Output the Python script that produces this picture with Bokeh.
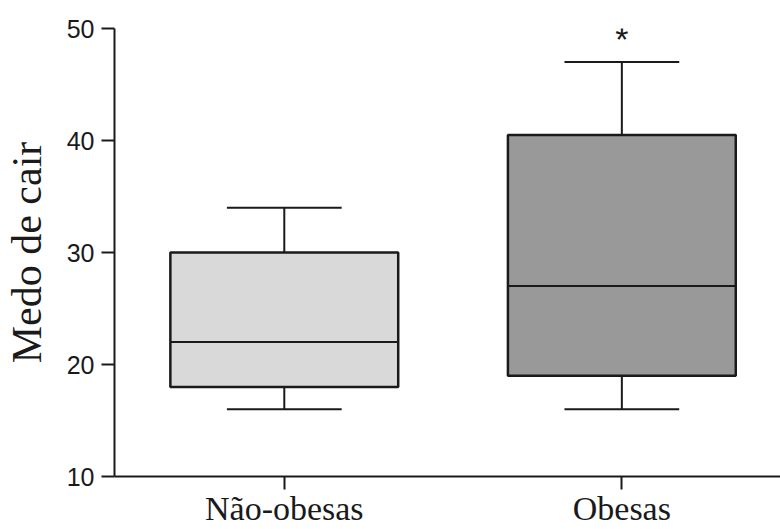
from bokeh.plotting import figure
from bokeh.models import Range1d, FixedTicker
from bokeh.core.properties import value
from bokeh.embed import file_html
from bokeh.resources import INLINE

# Data
categories = ["Não-obesas", "Obesas"]
positions = [1, 2]
lower_whisker = [16, 16]
q1 = [18, 19]
median = [22, 27]
q3 = [30, 40.5]
upper_whisker = [34, 47]
box_colors = ["#d9d9d9", "#999999"]
y_ticks = [10, 20, 30, 40, 50]
signif_marks = ["", "*"]
signif_y = [None, 49.1]

BOX_W = 0.675
CAP_W = 0.34
LINE = "#1a1a1a"

p = figure(width=780, height=529, output_backend="svg", toolbar_location=None,
           x_range=Range1d(0.497, 2.47), y_range=Range1d(10, 50),
           min_border_left=113, min_border_right=0, min_border_top=28,
           min_border_bottom=53)
p.outline_line_color = None
p.xgrid.visible = False
p.ygrid.visible = False
p.background_fill_color = "white"
p.border_fill_color = "white"

# whiskers
p.segment(x0=positions, x1=positions, y0=q3, y1=upper_whisker, line_color=LINE, line_width=2)
p.segment(x0=positions, x1=positions, y0=q1, y1=lower_whisker, line_color=LINE, line_width=2)
# caps
p.segment(x0=[x - CAP_W / 2 for x in positions], x1=[x + CAP_W / 2 for x in positions],
          y0=upper_whisker, y1=upper_whisker, line_color=LINE, line_width=2)
p.segment(x0=[x - CAP_W / 2 for x in positions], x1=[x + CAP_W / 2 for x in positions],
          y0=lower_whisker, y1=lower_whisker, line_color=LINE, line_width=2)
# boxes
p.vbar(x=positions, width=BOX_W, bottom=q1, top=q3, fill_color=box_colors,
       line_color=LINE, line_width=2.5)
# medians
p.segment(x0=[x - BOX_W / 2 for x in positions], x1=[x + BOX_W / 2 for x in positions],
          y0=median, y1=median, line_color=LINE, line_width=2)

# significance mark
sx = [x for x, m in zip(positions, signif_marks) if m]
sy = [y for y, m in zip(signif_y, signif_marks) if m]
st = [m for m in signif_marks if m]
p.text(x=sx, y=sy, text=st, text_align="center", text_baseline="middle",
       text_font=value("Liberation Sans"), text_font_size="34px", text_color=LINE)

# axes
p.xaxis.ticker = FixedTicker(ticks=positions)
p.xaxis.major_label_overrides = {x: c for x, c in zip(positions, categories)}
p.xaxis.major_label_text_font = "Liberation Serif"
p.xaxis.major_label_text_font_size = "34px"
p.xaxis.major_label_text_color = LINE
p.xaxis.major_label_standoff = 0
p.xaxis.minor_tick_line_color = None
p.xaxis.major_tick_out = 13
p.xaxis.major_tick_in = 0
p.xaxis.axis_line_width = 2
p.xaxis.major_tick_line_width = 2
p.xaxis.axis_line_color = LINE
p.xaxis.major_tick_line_color = LINE

p.yaxis.ticker = FixedTicker(ticks=y_ticks)
p.yaxis.axis_label = "Medo de cair"
p.yaxis.axis_label_text_font = "Liberation Serif"
p.yaxis.axis_label_text_font_size = "42px"
p.yaxis.axis_label_text_font_style = "normal"
p.yaxis.axis_label_text_color = LINE
p.yaxis.axis_label_standoff = 14
p.yaxis.major_label_text_font = "Liberation Sans"
p.yaxis.major_label_text_font_size = "25px"
p.yaxis.major_label_text_color = LINE
p.yaxis.major_label_standoff = 7
p.yaxis.minor_tick_line_color = None
p.yaxis.major_tick_out = 13
p.yaxis.major_tick_in = 0
p.yaxis.axis_line_width = 2
p.yaxis.major_tick_line_width = 2
p.yaxis.axis_line_color = LINE
p.yaxis.major_tick_line_color = LINE

open("out.html", "w").write(file_html(p, INLINE))
